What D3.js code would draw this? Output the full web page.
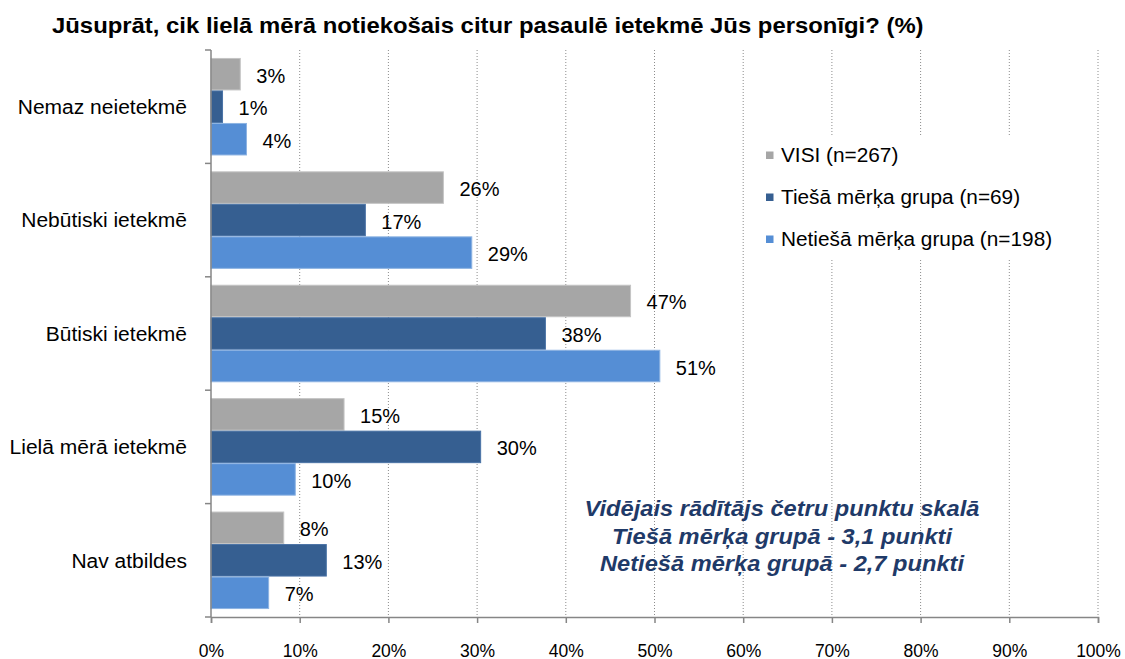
<!DOCTYPE html>
<html>
<head>
<meta charset="utf-8">
<script src="https://cdn.jsdelivr.net/npm/d3@7"></script>
<style>
  html, body { margin: 0; padding: 0; background: #fff; }
  svg { display: block; font-family: "Liberation Sans", Arial, sans-serif; }
</style>
</head>
<body>
<svg id="chart" width="1125" height="659"></svg>
<script>
// Survey answers, one row per category
const categories = ["Nemaz neietekmē", "Nebūtiski ietekmē", "Būtiski ietekmē", "Lielā mērā ietekmē", "Nav atbildes"];
const seriesNames = ["VISI (n=267)", "Tiešā mērķa grupa (n=69)", "Netiešā mērķa grupa (n=198)"];
const visi    = [3.3, 26.2, 47.3, 15.0, 8.2];
const tiesa   = [1.3, 17.4, 37.7, 30.4, 13.0];
const netiesa = [4.0, 29.4, 50.6, 9.5, 6.5];
const seriesValues = [visi, tiesa, netiesa];
const xTicks = [0, 10, 20, 30, 40, 50, 60, 70, 80, 90, 100];
const titleText = "Jūsuprāt, cik lielā mērā notiekošais citur pasaulē ietekmē Jūs personīgi? (%)";
const noteLines = ["Vidējais rādītājs četru punktu skalā", "Tiešā mērķa grupā - 3,1 punkti", "Netiešā mērķa grupā - 2,7 punkti"];

const colors = ["#a6a6a6", "#365f91", "#558ed5"];
const edgeColors = ["#c4c4c4", "#4a73a6", "#8db3e2"];
const svg = d3.select("#chart");
const plotLeft = 211, plotRight = 1098, plotTop = 50, plotBottom = 617;

// widen glyphs slightly so the text set reads like the wider office rendering
function widen(sel, factor) {
  sel.each(function() {
    const w = this.getComputedTextLength();
    d3.select(this).attr("textLength", w * factor).attr("lengthAdjust", "spacingAndGlyphs");
  });
}

const x = d3.scaleLinear().domain([0, 100]).range([plotLeft, plotRight]);
const y = d3.scaleBand().domain(categories).range([plotTop, plotBottom]).paddingInner(0.14).paddingOuter(0.07);
const sub = d3.scaleBand().domain(d3.range(seriesNames.length)).range([0, y.bandwidth()]);

// title
svg.append("text").attr("x", 52).attr("y", 33)
  .attr("font-size", 22).attr("font-weight", "bold").attr("fill", "#000")
  .text(titleText)
  .call(widen, 1.085);

// dotted vertical gridlines
svg.append("g").selectAll("line").data(xTicks.slice(1)).join("line")
  .attr("x1", d => x(d)).attr("x2", d => x(d))
  .attr("y1", plotTop).attr("y2", plotBottom)
  .attr("stroke", "#8c8c8c").attr("stroke-width", 1)
  .attr("stroke-dasharray", "1,2");

// bars with value labels
const groups = svg.append("g").selectAll("g").data(categories).join("g")
  .attr("transform", d => `translate(0,${y(d)})`);
groups.each(function(cat, ci) {
  const g = d3.select(this);
  seriesValues.forEach((vals, si) => {
    g.append("rect")
      .attr("x", x(0)).attr("y", sub(si) + 0.5)
      .attr("width", x(vals[ci]) - x(0)).attr("height", sub.bandwidth() - 1)
      .attr("fill", colors[si])
      .attr("stroke", edgeColors[si]).attr("stroke-width", 1);
    g.append("text")
      .attr("x", x(vals[ci]) + 16).attr("y", sub(si) + sub.bandwidth() / 2 + 8.5)
      .attr("font-size", 20).attr("fill", "#000")
      .text(Math.round(vals[ci]) + "%");
  });
});

// category axis (left)
const yBoundaries = [plotTop].concat(categories.map(c => y(c) + y.bandwidth() + y.step() * y.paddingInner() / 2));
yBoundaries[yBoundaries.length - 1] = plotBottom;
const yAxis = svg.append("g");
yAxis.append("line").attr("x1", plotLeft).attr("x2", plotLeft).attr("y1", plotTop).attr("y2", plotBottom)
  .attr("stroke", "#868686").attr("stroke-width", 1.5);
yAxis.selectAll("line.tk").data(yBoundaries).join("line").attr("class", "tk")
  .attr("x1", plotLeft - 6).attr("x2", plotLeft).attr("y1", d => d).attr("y2", d => d)
  .attr("stroke", "#868686").attr("stroke-width", 1.5);
yAxis.selectAll("text").data(categories).join("text")
  .attr("x", 187).attr("y", d => y(d) + y.bandwidth() / 2 + 7.3)
  .attr("text-anchor", "end").attr("font-size", 20).attr("fill", "#000")
  .text(d => d)
  .call(widen, 1.05);

// value axis (bottom)
const xAxis = svg.append("g").attr("transform", `translate(0,${plotBottom})`)
  .call(d3.axisBottom(x).tickValues(xTicks).tickFormat(d => d + "%").tickSize(6).tickPadding(0));
xAxis.select(".domain").attr("stroke", "#868686").attr("stroke-width", 1.5);
xAxis.selectAll(".tick line").attr("stroke", "#868686").attr("stroke-width", 1.5);
xAxis.selectAll(".tick text").attr("font-size", 17.5).attr("fill", "#000")
  .attr("font-family", "Liberation Sans, Arial, sans-serif")
  .attr("y", 39.5).attr("dy", null);

// legend
const legend = svg.append("g");
legend.append("rect").attr("x", 758).attr("y", 136).attr("width", 318).attr("height", 122).attr("fill", "#fff");
seriesNames.forEach((name, i) => {
  const ly = 155 + i * 42;
  legend.append("rect").attr("x", 766).attr("y", ly - 3.5).attr("width", 7.5).attr("height", 7.5).attr("fill", colors[i]);
  legend.append("text").attr("x", 781).attr("y", ly + 7)
    .attr("font-size", 20).attr("fill", "#000").text(name)
    .call(widen, 1.04);
});

// note
svg.append("g").selectAll("text").data(noteLines).join("text")
  .attr("x", 782).attr("y", (d, i) => 516 + i * 27.5)
  .attr("text-anchor", "middle").attr("font-size", 21.5).attr("font-weight", "bold")
  .attr("font-style", "italic").attr("fill", "#1f3a68")
  .text(d => d)
  .call(widen, 1.1);
</script>
</body>
</html>
